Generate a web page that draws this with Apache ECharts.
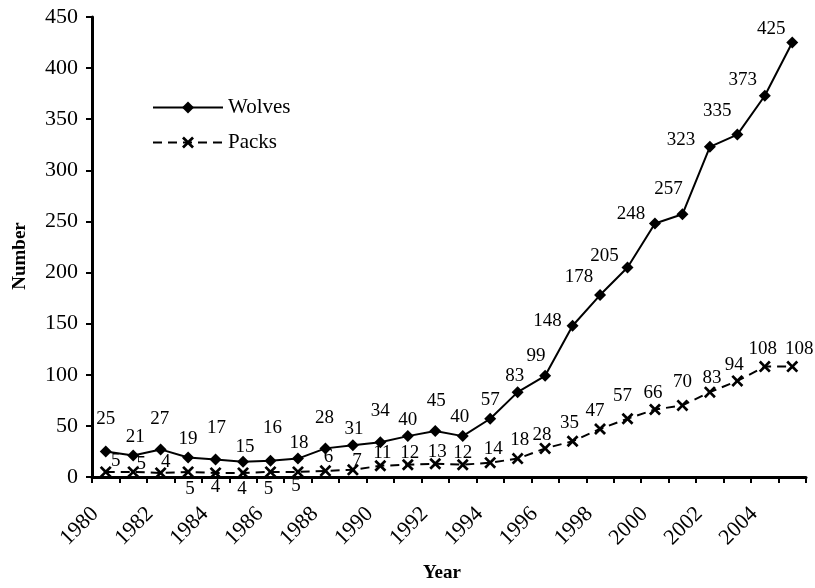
<!DOCTYPE html>
<html>
<head>
<meta charset="utf-8">
<script src="https://cdn.jsdelivr.net/npm/echarts@6/dist/echarts.min.js"></script>
<style>html,body{margin:0;padding:0;background:#fff}#c{width:815px;height:588px}</style>
</head>
<body>
<div id="c"></div>
<script>
var years = ['1980','1981','1982','1983','1984','1985','1986','1987','1988','1989','1990','1991','1992','1993','1994','1995','1996','1997','1998','1999','2000','2001','2002','2003','2004','2005'];
var wolves = [25,21,27,19,17,15,16,18,28,31,34,40,45,40,57,83,99,148,178,205,248,257,323,335,373,425];
var packs = [5,5,4,5,4,4,5,5,6,7,11,12,13,12,14,18,28,35,47,57,66,70,83,94,108,108];
var yTicks = [0,50,100,150,200,250,300,350,400,450];

// label offsets (placement only) relative to each marker centre
var wolvesLabelOffset = [[0,-32],[2,-19],[-1,-30],[0,-19],[1,-32],[2,-15],[2,-33],[1,-16],[-1,-30],[1,-16],[0,-31],[0,-16],[1,-30],[-3,-19],[0,-19],[-3,-16],[-9,-20],[-25,-5],[-21,-18],[-23,-11],[-24,-9],[-14,-25],[-29,-7],[-20,-24],[-22,-16],[-21,-14]];
var packsLabelOffset = [[10,-11],[8,-8],[5,-11],[2,17],[0,14],[-1,16],[-2,17],[-2,14],[3,-14],[4,-9],[2,-13],[2,-12],[2,-12],[0,-12],[3,-14],[2,-19],[-3,-13],[-3,-18],[-5,-18],[-5,-23],[-2,-17],[0,-23],[2,-14],[-3,-16],[-2,-18],[7,-18]];

var FONT = 'Liberation Serif';
var xPath = 'path://M0,1.6L1.6,0L5,3.4L8.4,0L10,1.6L6.6,5L10,8.4L8.4,10L5,6.6L1.6,10L0,8.4L3.4,5Z';

function mk(vals, offs) {
  return vals.map(function (v, i) { return { value: v, label: { offset: offs[i] } }; });
}

var chart = echarts.init(document.getElementById('c'), null, { renderer: 'canvas' });
chart.setOption({
  animation: false,
  backgroundColor: '#fff',
  textStyle: { fontFamily: FONT, color: '#000' },
  grid: { left: 92, right: 9, top: 17, bottom: 107, containLabel: false },
  legend: {
    orient: 'vertical', left: 147, top: 92,
    itemWidth: 70, itemHeight: 15, itemGap: 14,
    textStyle: { fontFamily: FONT, fontSize: 21, color: '#000' },
    data: ['Wolves', 'Packs']
  },
  xAxis: {
    type: 'category', data: years, boundaryGap: true,
    name: 'Year', nameLocation: 'middle', nameGap: 87,
    nameTextStyle: { fontFamily: FONT, fontWeight: 'bold', fontSize: 19, color: '#000', padding: [0, 14, 0, 0] },
    axisLine: { lineStyle: { color: '#000', width: 3 } },
    axisTick: { show: true, interval: 0, length: 6, lineStyle: { color: '#000', width: 2 } },
    axisLabel: { interval: 1, rotate: 45, margin: 23, padding: [0, 15, 0, 0], fontFamily: FONT, fontSize: 22, color: '#000' },
    splitLine: { show: false }
  },
  yAxis: {
    type: 'value', min: 0, max: 450, interval: 50,
    name: 'Number', nameLocation: 'middle', nameGap: 62, nameRotate: 90,
    nameTextStyle: { fontFamily: FONT, fontWeight: 'bold', fontSize: 19, color: '#000', padding: [0, 18, 0, 0] },
    axisLine: { show: true, lineStyle: { color: '#000', width: 3 } },
    axisTick: { show: true, length: 6, lineStyle: { color: '#000', width: 2 } },
    axisLabel: { margin: 14, fontFamily: FONT, fontSize: 22, color: '#000',
      formatter: function (v) { return yTicks.indexOf(v) >= 0 ? String(v) : ''; } },
    splitLine: { show: false }
  },
  series: [
    {
      name: 'Wolves', type: 'line', data: mk(wolves, wolvesLabelOffset),
      symbol: 'diamond', symbolSize: 12, showAllSymbol: true,
      lineStyle: { color: '#000', width: 2 },
      itemStyle: { color: '#000' },
      label: { show: true, position: 'inside', fontFamily: FONT, fontSize: 19, color: '#000' },
      z: 3
    },
    {
      name: 'Packs', type: 'line', data: mk(packs, packsLabelOffset),
      symbol: xPath, symbolSize: 12, showAllSymbol: true,
      lineStyle: { color: '#000', width: 2, type: [9, 6] },
      itemStyle: { color: '#000' },
      label: { show: true, position: 'inside', fontFamily: FONT, fontSize: 19, color: '#000' },
      z: 2
    }
  ]
});
</script>
</body>
</html>
